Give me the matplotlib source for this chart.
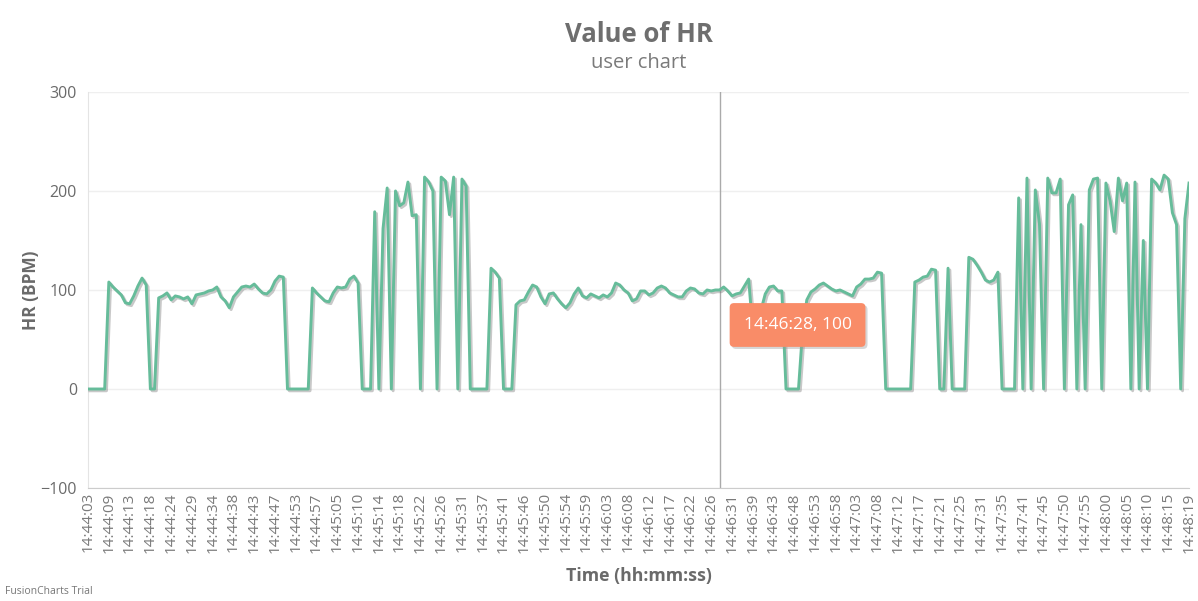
import matplotlib
matplotlib.use('Agg')
import matplotlib.pyplot as plt
import matplotlib.patheffects as pe

# HR samples, roughly one per second; every 5th one gets a time label
hr = [
    0, 0, 0, 0, 0, 108, 103, 99, 95, 87,
    86, 94, 104, 112, 105, 0, 0, 92, 94, 97,
    90, 94, 93, 91, 93, 86, 95, 96, 97, 99,
    100, 103, 93, 89, 82, 93, 98, 103, 104, 103,
    106, 101, 97, 96, 100, 109, 114, 113, 0, 0,
    0, 0, 0, 0, 102, 97, 93, 89, 88, 97,
    103, 102, 103, 111, 114, 107, 0, 0, 0, 179,
    0, 162, 203, 0, 200, 185, 188, 209, 175, 176,
    0, 214, 209, 200, 0, 214, 210, 176, 214, 0,
    212, 205, 0, 0, 0, 0, 0, 122, 118, 112,
    0, 0, 0, 85, 89, 90, 98, 105, 103, 93,
    86, 96, 97, 91, 86, 82, 87, 96, 102, 94,
    92, 96, 94, 92, 95, 93, 97, 107, 105, 100,
    97, 89, 91, 99, 99, 95, 97, 102, 104, 102,
    97, 95, 93, 93, 99, 102, 101, 97, 96, 100,
    99, 100, 100, 103, 99, 94, 96, 97, 104, 111,
    60, 55, 80, 96, 103, 104, 99, 99, 0, 0,
    0, 0, 60, 90, 98, 101, 105, 107, 104, 101,
    99, 100, 98, 96, 94, 103, 106, 111, 111, 112,
    118, 117, 0, 0, 0, 0, 0, 0, 0, 108,
    110, 113, 114, 121, 120, 0, 0, 122, 0, 0,
    0, 0, 133, 131, 125, 118, 110, 108, 110, 118,
    0, 0, 0, 0, 193, 0, 213, 0, 201, 167,
    0, 213, 198, 198, 212, 0, 186, 196, 0, 166,
    0, 201, 212, 213, 0, 208, 190, 159, 213, 190,
    208, 0, 209, 0, 150, 0, 212, 208, 201, 216,
    212, 178, 166, 0, 172, 208,
]

time_labels = [
    '14:44:03', '14:44:09', '14:44:13', '14:44:18', '14:44:24', '14:44:29',
    '14:44:34', '14:44:38', '14:44:43', '14:44:47', '14:44:53', '14:44:57',
    '14:45:05', '14:45:10', '14:45:14', '14:45:18', '14:45:22', '14:45:26',
    '14:45:31', '14:45:37', '14:45:41', '14:45:46', '14:45:50', '14:45:54',
    '14:45:59', '14:46:03', '14:46:08', '14:46:12', '14:46:17', '14:46:22',
    '14:46:26', '14:46:31', '14:46:39', '14:46:43', '14:46:48', '14:46:53',
    '14:46:58', '14:47:03', '14:47:08', '14:47:12', '14:47:17', '14:47:21',
    '14:47:25', '14:47:31', '14:47:35', '14:47:41', '14:47:45', '14:47:50',
    '14:47:55', '14:48:00', '14:48:05', '14:48:10', '14:48:15', '14:48:19',
]
label_step = 5

# hovered sample
hover_idx = 152
hover_time = '14:46:28'

y_ticks = [-100, 0, 100, 200, 300]

plt.rcParams['font.family'] = ['Open Sans', 'DejaVu Sans']

fig = plt.figure(figsize=(11.98, 6.01), dpi=100)
ax = fig.add_axes([0.0735, 0.188, 0.919, 0.659])

x = list(range(len(hr)))
ax.plot(x, hr, color='#66BC9A', lw=2.1, solid_joinstyle='round',
        path_effects=[pe.SimpleLineShadow(offset=(1.3, -1.3), shadow_color='#777777', alpha=0.4),
                      pe.Normal()], zorder=3)

ax.set_xlim(0, len(hr) - 1)
ax.set_ylim(-100, 300)
ax.set_yticks(y_ticks)
ax.set_xticks(range(0, len(hr), label_step))
ax.set_xticklabels(time_labels, rotation=90, fontsize=11, color='#7a7a7a')
ax.tick_params(axis='y', labelsize=11.5, labelcolor='#6a6a6a', length=0, pad=8)
ax.tick_params(axis='x', length=0, pad=3)

ax.grid(axis='y', color='#efefef', lw=1)
ax.set_axisbelow(True)
for side in ['top', 'right']:
    ax.spines[side].set_visible(False)
ax.spines['left'].set_color('#e4e4e4')
ax.spines['bottom'].set_color('#cccccc')

ax.set_ylabel('HR (BPM)', fontsize=12.5, fontweight='bold', color='#6a6a6a', labelpad=0)
ax.set_xlabel('Time (hh:mm:ss)', fontsize=12.8, fontweight='bold', color='#6a6a6a', labelpad=10)

fig.text(0.533, 0.943, 'Value of HR', ha='center', va='center', fontsize=18.5,
         fontweight='bold', color='#6e6e6e')
fig.text(0.533, 0.895, 'user chart', ha='center', va='center', fontsize=14.5, color='#7a7a7a')
fig.text(0.004, 0.015, 'FusionCharts Trial', ha='left', va='center', fontsize=7.5, color='#777777')

# hover crosshair and tooltip
ax.axvline(hover_idx, color='#aaaaaa', lw=1, zorder=2)
ax.annotate(f'{hover_time}, {hr[hover_idx]}', xy=(hover_idx, hr[hover_idx]),
            xytext=(78, -35), textcoords='offset pixels', ha='center', va='center',
            fontsize=12.5, color='white',
            bbox=dict(boxstyle='round,pad=0.8,rounding_size=0.25', fc='#F98C68', ec='none',
                      path_effects=[pe.withSimplePatchShadow(offset=(1.5, -1.5),
                                                             shadow_rgbFace='#999999', alpha=0.4)]),
            zorder=5)

fig.savefig('out.png', dpi=100)
